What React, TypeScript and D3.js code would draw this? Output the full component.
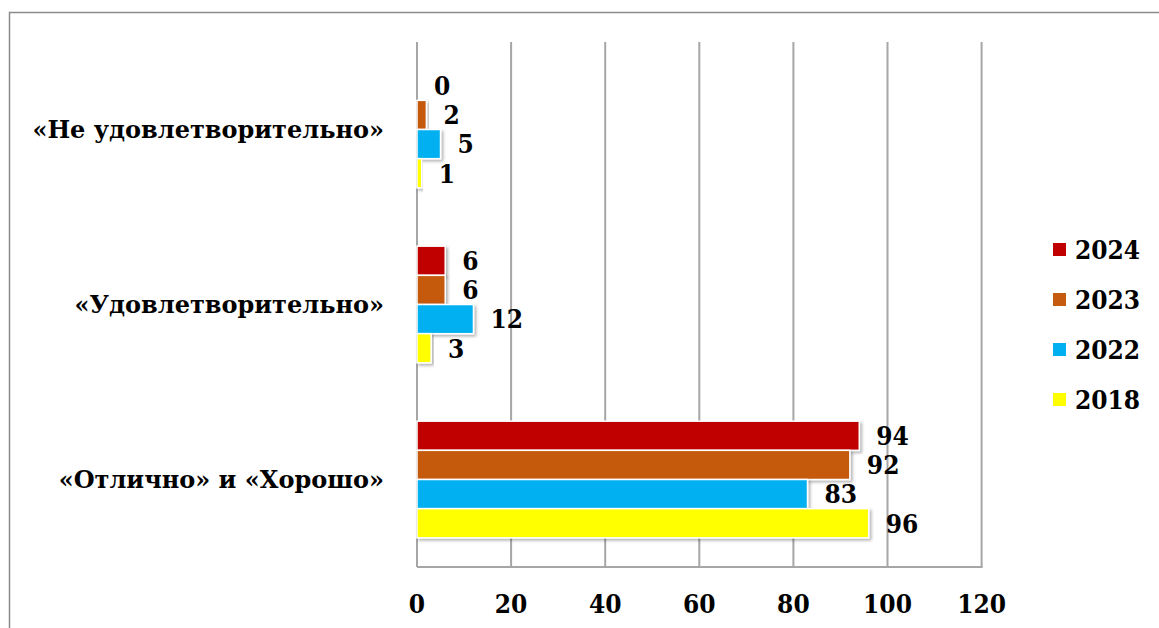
import React from "react";
import * as d3 from "d3";

const categories = ["«Не удовлетворительно»", "«Удовлетворительно»", "«Отлично» и «Хорошо»"];
const seriesNames = ["2024", "2023", "2022", "2018"];
const seriesColors = ["#C00000", "#C55A11", "#00B0F0", "#FFFF00"];
const values2024 = [0, 6, 94];
const values2023 = [2, 6, 92];
const values2022 = [5, 12, 83];
const values2018 = [1, 3, 96];
const xTicks = [0, 20, 40, 60, 80, 100, 120];

const seriesValues = [values2024, values2023, values2022, values2018];

const W = 1159;
const H = 628;
const plotLeft = 417;
const plotRight = 981.6;
const plotTop = 42;
const plotBottom = 567;
const FONT = "'DejaVu Serif Condensed', 'DejaVu Serif', serif";
const CAT_FONT = "'DejaVu Serif', serif";

export default function App() {
  const x = d3.scaleLinear().domain([0, 120]).range([plotLeft, plotRight]);
  const y = d3.scaleBand<string>().domain(categories).range([plotTop, plotBottom]).padding(0);
  const inner = d3
    .scaleBand<string>()
    .domain(seriesNames)
    .range([0, y.bandwidth()])
    .paddingInner(0)
    .paddingOuter(1);
  const legendY = d3.scalePoint<string>().domain(seriesNames).range([249.5, 399.5]);
  const grid = "#a6a6a6";
  const digitSize = 26;
  const catSize = 24;

  return (
    <svg
      width={W}
      height={H}
      style={{ position: "absolute", left: 0, top: 0, background: "#fff" }}
      fontFamily={FONT}
      fontWeight="bold"
    >
      <defs>
        <filter id="sh" x="-10%" y="-20%" width="130%" height="160%">
          <feDropShadow dx="2" dy="2" stdDeviation="1.5" floodColor="#000" floodOpacity="0.3" />
        </filter>
      </defs>
      <rect x={9.5} y={12.5} width={W + 20} height={H + 20} fill="#fff" stroke="#8c8c8c" strokeWidth={1.5} />
      {xTicks.map((t) => (
        <line key={"g" + t} x1={x(t)} x2={x(t)} y1={plotTop} y2={plotBottom} stroke={grid} strokeWidth={2} />
      ))}
      <line x1={plotLeft} x2={plotRight + 1} y1={plotBottom} y2={plotBottom} stroke={grid} strokeWidth={2} />
      {categories.map((c, ci) => (
        <g key={c}>
          {seriesNames.map((s, si) => {
            const v = seriesValues[si][ci];
            const by = (y(c) as number) + (inner(s) as number);
            const bh = inner.bandwidth();
            return (
              <g key={s}>
                {v > 0 && (
                  <rect
                    x={x(0)}
                    y={by}
                    width={x(v) - x(0)}
                    height={bh}
                    fill={seriesColors[si]}
                    stroke="#fff"
                    strokeWidth={1.5}
                    filter="url(#sh)"
                  />
                )}
                <text x={x(v) + 17} y={by + bh / 2 + 0.36 * digitSize} fontSize={digitSize} fill="#000">
                  {v}
                </text>
              </g>
            );
          })}
          <text
            x={384}
            y={(y(c) as number) + y.bandwidth() / 2 + 0.36 * catSize}
            fontSize={catSize}
            fontFamily={CAT_FONT}
            textAnchor="end"
            fill="#000"
          >
            {c}
          </text>
        </g>
      ))}
      {xTicks.map((t) => (
        <text key={"t" + t} x={x(t)} y={613} fontSize={digitSize} textAnchor="middle" fill="#000">
          {t}
        </text>
      ))}
      {seriesNames.map((s, si) => (
        <g key={"l" + s}>
          <rect x={1053} y={(legendY(s) as number) - 6.5} width={13} height={13} fill={seriesColors[si]} />
          <text x={1075} y={(legendY(s) as number) + 0.36 * digitSize} fontSize={digitSize} fill="#000">
            {s}
          </text>
        </g>
      ))}
    </svg>
  );
}
